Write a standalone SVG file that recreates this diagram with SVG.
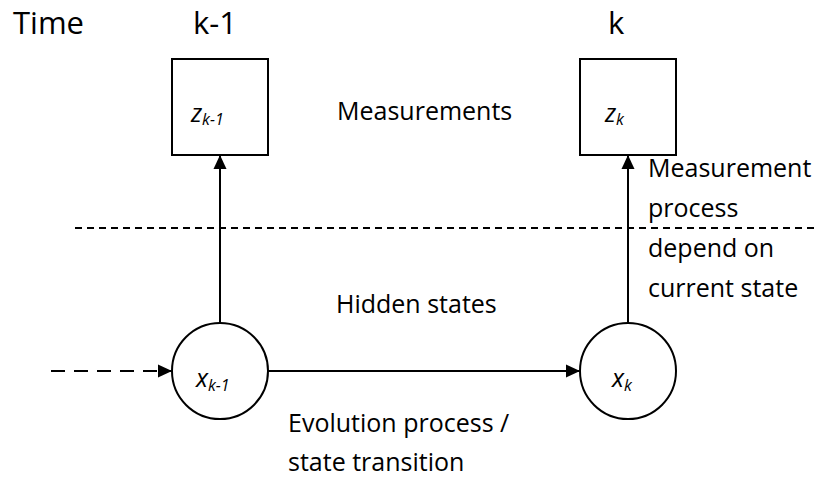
<svg xmlns="http://www.w3.org/2000/svg" width="816" height="480" viewBox="0 0 816 480">
  <style>
    text { font-family: "Open Sans", "Noto Sans", sans-serif; fill: #000; }
    .big { font-size: 31px; }
    .lbl { font-size: 25px; }
    .var { font-size: 25px; font-style: italic; }
    .sub { font-size: 16px; font-style: italic; }
    .shape { fill: #fff; stroke: #000; stroke-width: 2; }
    .conn { fill: none; stroke: #000; stroke-width: 2; }
  </style>
  <defs>
    <marker id="arrow" viewBox="0 0 14 14" refX="14" refY="7" markerWidth="14" markerHeight="14" markerUnits="userSpaceOnUse" orient="auto">
      <path d="M0,0.5 L14,7 L0,13.5 Z" fill="#000"/>
    </marker>
  </defs>

  <rect width="816" height="480" fill="#fff"/>

  <text class="big" x="13" y="34">Time</text>
  <text class="big" x="193" y="34">k-1</text>
  <text class="big" x="608" y="34">k</text>

  <g id="connectors">
    <line class="conn" x1="75" y1="228" x2="816" y2="228" stroke-dasharray="7 5"/>
    <line class="conn" x1="51" y1="371" x2="172" y2="371" stroke-dasharray="14 9" marker-end="url(#arrow)"/>
    <line class="conn" x1="268" y1="371" x2="580" y2="371" marker-end="url(#arrow)"/>
    <line class="conn" x1="220" y1="323" x2="220" y2="155" marker-end="url(#arrow)"/>
    <line class="conn" x1="628" y1="323" x2="628" y2="155" marker-end="url(#arrow)"/>
  </g>

  <g id="z_km1">
    <rect class="shape" x="172" y="59" width="96" height="96"/>
    <text class="var" x="191" y="122">z<tspan class="sub" dy="3">k-1</tspan></text>
  </g>
  <g id="z_k">
    <rect class="shape" x="580" y="59" width="96" height="96"/>
    <text class="var" x="605" y="122">z<tspan class="sub" dy="3">k</tspan></text>
  </g>
  <g id="x_km1">
    <circle class="shape" cx="220" cy="371" r="48"/>
    <text class="var" x="196" y="387">x<tspan class="sub" dy="4">k-1</tspan></text>
  </g>
  <g id="x_k">
    <circle class="shape" cx="628" cy="371" r="48"/>
    <text class="var" x="612" y="387">x<tspan class="sub" dy="4">k</tspan></text>
  </g>

  <text class="lbl" x="337" y="120">Measurements</text>
  <text class="lbl" x="336" y="313">Hidden states</text>
  <text class="lbl" x="648" y="177">Measurement</text>
  <text class="lbl" x="648" y="217">process</text>
  <text class="lbl" x="648" y="257">depend on</text>
  <text class="lbl" x="648" y="297">current state</text>
  <text class="lbl" x="288" y="432">Evolution process /</text>
  <text class="lbl" x="288" y="471">state transition</text>
</svg>
